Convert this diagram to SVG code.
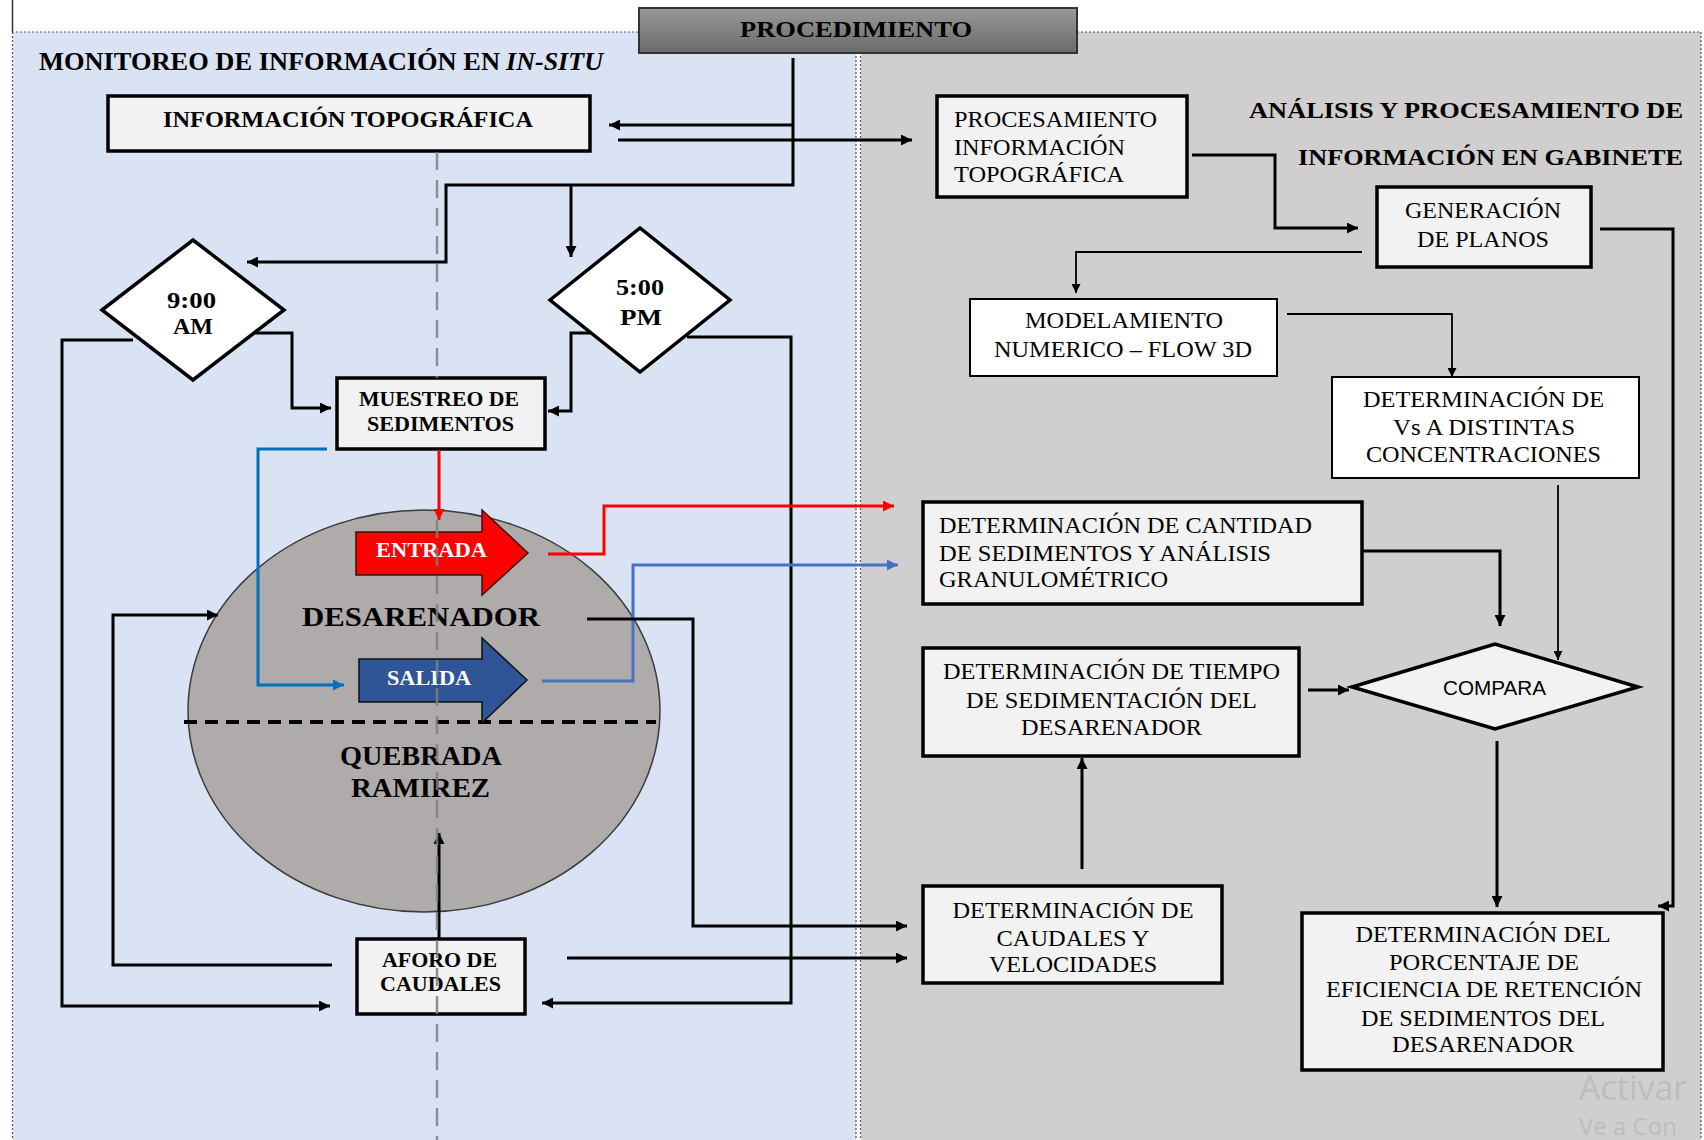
<svg xmlns="http://www.w3.org/2000/svg" width="1704" height="1140" viewBox="0 0 1704 1140">
<style>
.serif{font-family:"Liberation Serif","Times New Roman",serif;fill:#000}
.b{font-weight:bold}
.r24{font-size:24px}
.box{fill:#F2F2F2;stroke:#000;stroke-width:3.5}
.thinbox{fill:#FFFFFF;stroke:#000;stroke-width:2}
.dia{fill:#FFFFFF;stroke:#000;stroke-width:3.5}
.con{fill:none;stroke:#000;stroke-width:3;marker-end:url(#ah)}
.thin{fill:none;stroke:#000;stroke-width:1.8;marker-end:url(#ahs)}
.red{fill:none;stroke:#FF0000;stroke-width:3;marker-end:url(#ahr)}
.blue1{fill:none;stroke:#0070C0;stroke-width:3;marker-end:url(#ahb1)}
.blue2{fill:none;stroke:#4472C4;stroke-width:3;marker-end:url(#ahb2)}
.dot{fill:none;stroke:#555;stroke-width:1.2;stroke-dasharray:2 2}
</style>
<defs>
<linearGradient id="gproc" x1="0" y1="0" x2="0" y2="1">
<stop offset="0" stop-color="#999999"/>
<stop offset="1" stop-color="#6A6A6A"/>
</linearGradient>
<marker id="ah" viewBox="0 0 10 10" refX="10" refY="5" markerWidth="11" markerHeight="11" markerUnits="userSpaceOnUse" orient="auto"><path d="M0,0 L10,5 L0,10 z" fill="#000"/></marker>
<marker id="ahs" viewBox="0 0 10 10" refX="10" refY="5" markerWidth="10" markerHeight="9" markerUnits="userSpaceOnUse" orient="auto"><path d="M0,0 L10,5 L0,10 z" fill="#000"/></marker>
<marker id="ahr" viewBox="0 0 10 10" refX="10" refY="5" markerWidth="11" markerHeight="11" markerUnits="userSpaceOnUse" orient="auto"><path d="M0,0 L10,5 L0,10 z" fill="#FF0000"/></marker>
<marker id="ahb1" viewBox="0 0 10 10" refX="10" refY="5" markerWidth="11" markerHeight="11" markerUnits="userSpaceOnUse" orient="auto"><path d="M0,0 L10,5 L0,10 z" fill="#0070C0"/></marker>
<marker id="ahb2" viewBox="0 0 10 10" refX="10" refY="5" markerWidth="11" markerHeight="11" markerUnits="userSpaceOnUse" orient="auto"><path d="M0,0 L10,5 L0,10 z" fill="#4472C4"/></marker>
</defs>

<rect x="0" y="0" width="1704" height="1140" fill="#FFFFFF"/>
<g id="panels">
<rect x="13" y="32" width="843" height="1108" fill="#DAE3F3"/>
<rect x="861" y="32" width="840" height="1108" fill="#D0CECE"/>
<line x1="12.5" y1="0" x2="12.5" y2="32" stroke="#333" stroke-width="1.5"/>
<line x1="12.5" y1="32" x2="12.5" y2="1140" class="dot"/>
<line x1="12" y1="32" x2="640" y2="32" class="dot"/>
<line x1="1077" y1="32" x2="1701" y2="32" class="dot"/>
<line x1="856" y1="32" x2="856" y2="1140" class="dot"/>
<line x1="860.5" y1="32" x2="860.5" y2="1140" class="dot"/>
<line x1="1701" y1="32" x2="1701" y2="1140" class="dot"/>
</g>

<g id="titles">
<text class="serif b" x="39" y="70" font-size="25" textLength="461" lengthAdjust="spacingAndGlyphs">MONITOREO DE INFORMACIÓN EN</text>
<text class="serif b" x="506" y="70" font-size="25" font-style="italic" textLength="97" lengthAdjust="spacingAndGlyphs">IN-SITU</text>
<text class="serif b" x="1683" y="118" font-size="24" text-anchor="end" textLength="434" lengthAdjust="spacingAndGlyphs">ANÁLISIS Y PROCESAMIENTO DE</text>
<text class="serif b" x="1683" y="165" font-size="24" text-anchor="end" textLength="385" lengthAdjust="spacingAndGlyphs">INFORMACIÓN EN GABINETE</text>
</g>

<g id="procedimiento">
<rect x="639" y="8" width="438" height="45" fill="url(#gproc)" stroke="#333" stroke-width="2"/>
<text class="serif b" x="856" y="37" font-size="23" text-anchor="middle" textLength="232" lengthAdjust="spacingAndGlyphs">PROCEDIMIENTO</text>
</g>

<g id="info-topografica">
<rect class="box" x="108" y="96" width="482" height="55"/>
<text class="serif b" x="348" y="127" font-size="24" text-anchor="middle" textLength="370" lengthAdjust="spacingAndGlyphs">INFORMACIÓN TOPOGRÁFICA</text>
</g>

<g id="am900">
<polygon class="dia" points="102,310 193,240 284,310 193,380"/>
<text class="serif b" x="191.5" y="308" font-size="24" text-anchor="middle" textLength="49" lengthAdjust="spacingAndGlyphs">9:00</text>
<text class="serif b" x="193" y="334" font-size="24" text-anchor="middle" textLength="40" lengthAdjust="spacingAndGlyphs">AM</text>
</g>

<g id="pm500">
<polygon class="dia" points="550,300 640,228 730,300 640,372"/>
<text class="serif b" x="640" y="295" font-size="24" text-anchor="middle" textLength="48" lengthAdjust="spacingAndGlyphs">5:00</text>
<text class="serif b" x="641" y="325" font-size="24" text-anchor="middle" textLength="42" lengthAdjust="spacingAndGlyphs">PM</text>
</g>

<g id="muestreo">
<rect class="box" x="337" y="378" width="208" height="71"/>
<text class="serif b" x="439" y="406" font-size="20" text-anchor="middle" textLength="160" lengthAdjust="spacingAndGlyphs">MUESTREO DE</text>
<text class="serif b" x="440.5" y="431" font-size="20" text-anchor="middle" textLength="147" lengthAdjust="spacingAndGlyphs">SEDIMENTOS</text>
</g>

<g id="desarenador">
<ellipse cx="424" cy="711" rx="236" ry="201" fill="#AFABAB" stroke="#3A3A3A" stroke-width="1.5"/>
<line x1="184" y1="722" x2="656" y2="722" stroke="#000" stroke-width="4" stroke-dasharray="13 8"/>
<text class="serif b" x="421" y="626" font-size="28" text-anchor="middle" textLength="238" lengthAdjust="spacingAndGlyphs">DESARENADOR</text>
<text class="serif b" x="421" y="765" font-size="28" text-anchor="middle" textLength="162" lengthAdjust="spacingAndGlyphs">QUEBRADA</text>
<text class="serif b" x="420.5" y="797" font-size="28" text-anchor="middle" textLength="139" lengthAdjust="spacingAndGlyphs">RAMIREZ</text>
</g>

<g id="entrada">
<polygon points="356,532 482,532 482,510 528,553 482,595 482,575 356,575" fill="#FF0000" stroke="#3A1010" stroke-width="1.5"/>
<text class="serif b" x="431.5" y="557" font-size="21" style="fill:#FFFFFF" text-anchor="middle" textLength="111" lengthAdjust="spacingAndGlyphs">ENTRADA</text>
</g>

<g id="salida">
<polygon points="359,659 482,659 482,638 527,680 482,723 482,702 359,702" fill="#2F5597" stroke="#111" stroke-width="1.5"/>
<text class="serif b" x="429" y="685" font-size="21" style="fill:#FFFFFF" text-anchor="middle" textLength="84" lengthAdjust="spacingAndGlyphs">SALIDA</text>
</g>

<g id="aforo">
<rect class="box" x="357" y="939" width="168" height="75"/>
<text class="serif b" x="439.5" y="967" font-size="20" text-anchor="middle" textLength="115" lengthAdjust="spacingAndGlyphs">AFORO DE</text>
<text class="serif b" x="440.5" y="991" font-size="20" text-anchor="middle" textLength="121" lengthAdjust="spacingAndGlyphs">CAUDALES</text>
</g>

<g id="procesamiento">
<rect class="box" x="937" y="96" width="250" height="101"/>
<text class="serif r24" x="954" y="127" textLength="203" lengthAdjust="spacingAndGlyphs">PROCESAMIENTO</text>
<text class="serif r24" x="954" y="155" textLength="171" lengthAdjust="spacingAndGlyphs">INFORMACIÓN</text>
<text class="serif r24" x="954" y="182" textLength="170" lengthAdjust="spacingAndGlyphs">TOPOGRÁFICA</text>
</g>

<g id="generacion">
<rect class="box" x="1377" y="187" width="214" height="80"/>
<text class="serif r24" x="1483" y="218" text-anchor="middle" textLength="156" lengthAdjust="spacingAndGlyphs">GENERACIÓN</text>
<text class="serif r24" x="1483" y="247" text-anchor="middle" textLength="132" lengthAdjust="spacingAndGlyphs">DE PLANOS</text>
</g>

<g id="modelamiento">
<rect class="thinbox" x="970" y="299" width="307" height="77"/>
<text class="serif r24" x="1124" y="328" text-anchor="middle" textLength="198" lengthAdjust="spacingAndGlyphs">MODELAMIENTO</text>
<text class="serif r24" x="1123" y="357" text-anchor="middle" textLength="258" lengthAdjust="spacingAndGlyphs">NUMERICO – FLOW 3D</text>
</g>

<g id="vs">
<rect class="thinbox" x="1332" y="377" width="307" height="101"/>
<text class="serif r24" x="1483.5" y="407" text-anchor="middle" textLength="241" lengthAdjust="spacingAndGlyphs">DETERMINACIÓN DE</text>
<text class="serif r24" x="1484" y="435" text-anchor="middle" textLength="182" lengthAdjust="spacingAndGlyphs">Vs A DISTINTAS</text>
<text class="serif r24" x="1483.5" y="462" text-anchor="middle" textLength="235" lengthAdjust="spacingAndGlyphs">CONCENTRACIONES</text>
</g>

<g id="cantidad">
<rect class="box" x="923" y="502" width="439" height="102"/>
<text class="serif r24" x="939" y="533" textLength="373" lengthAdjust="spacingAndGlyphs">DETERMINACIÓN DE CANTIDAD</text>
<text class="serif r24" x="939" y="561" textLength="332" lengthAdjust="spacingAndGlyphs">DE SEDIMENTOS Y ANÁLISIS</text>
<text class="serif r24" x="939" y="587" textLength="229" lengthAdjust="spacingAndGlyphs">GRANULOMÉTRICO</text>
</g>

<g id="tiempo">
<rect class="box" x="923" y="648" width="376" height="108"/>
<text class="serif r24" x="1111.5" y="679" text-anchor="middle" textLength="337" lengthAdjust="spacingAndGlyphs">DETERMINACIÓN DE TIEMPO</text>
<text class="serif r24" x="1111.5" y="708" text-anchor="middle" textLength="291" lengthAdjust="spacingAndGlyphs">DE SEDIMENTACIÓN DEL</text>
<text class="serif r24" x="1111.5" y="735" text-anchor="middle" textLength="181" lengthAdjust="spacingAndGlyphs">DESARENADOR</text>
</g>

<g id="compara">
<polygon points="1352,687 1495,644 1638,687 1495,729" fill="#F2F2F2" stroke="#000" stroke-width="3.5"/>
<text x="1494.5" y="695" font-family="Liberation Sans, Arial, sans-serif" font-size="20" text-anchor="middle" textLength="103" lengthAdjust="spacingAndGlyphs" fill="#000">COMPARA</text>
</g>

<g id="caudales">
<rect class="box" x="923" y="886" width="299" height="97"/>
<text class="serif r24" x="1073" y="918" text-anchor="middle" textLength="241" lengthAdjust="spacingAndGlyphs">DETERMINACIÓN DE</text>
<text class="serif r24" x="1073" y="946" text-anchor="middle" textLength="153" lengthAdjust="spacingAndGlyphs">CAUDALES Y</text>
<text class="serif r24" x="1073" y="972" text-anchor="middle" textLength="168" lengthAdjust="spacingAndGlyphs">VELOCIDADES</text>
</g>

<g id="porcentaje">
<rect class="box" x="1302" y="913" width="361" height="157"/>
<text class="serif r24" x="1483" y="942" text-anchor="middle" textLength="255" lengthAdjust="spacingAndGlyphs">DETERMINACIÓN DEL</text>
<text class="serif r24" x="1484" y="970" text-anchor="middle" textLength="190" lengthAdjust="spacingAndGlyphs">PORCENTAJE DE</text>
<text class="serif r24" x="1484" y="997" text-anchor="middle" textLength="316" lengthAdjust="spacingAndGlyphs">EFICIENCIA DE RETENCIÓN</text>
<text class="serif r24" x="1483" y="1026" text-anchor="middle" textLength="244" lengthAdjust="spacingAndGlyphs">DE SEDIMENTOS DEL</text>
<text class="serif r24" x="1483" y="1052" text-anchor="middle" textLength="182" lengthAdjust="spacingAndGlyphs">DESARENADOR</text>
</g>

<g id="connectors">
<path class="con" d="M793,58 V185 H446 V262 H247"/>
<path class="con" d="M793,125 H609"/>
<path class="con" d="M618,140 H912"/>
<path class="con" d="M571,185 V257"/>
<path class="con" d="M133,340 H62 V1006 H330"/>
<path class="con" d="M255,333 H292 V408 H331"/>
<path class="con" d="M592,333 H571 V411 H548"/>
<path class="con" d="M687,337 H791 V1003 H542"/>
<path class="red" d="M439,450 V520"/>
<path class="blue1" d="M327,449 H258 V685 H344"/>
<path class="red" d="M548,554 H604 V506 H894"/>
<path class="blue2" d="M542,681 H633 V565 H898"/>
<path class="con" d="M587,619 H693 V926 H907"/>
<path class="con" d="M332,965 H113 V615 H218"/>
<path class="con" d="M439,939 V833"/>
<path class="con" d="M567,958 H907"/>
<path class="con" d="M1192,155 H1275 V228 H1358"/>
<path class="thin" d="M1362,252 H1076 V293"/>
<path class="con" d="M1600,229 H1673 V906 H1658"/>
<path class="thin" d="M1287,314 H1452 V377"/>
<path class="thin" d="M1558,485 V660"/>
<path class="con" d="M1362,551 H1500 V626"/>
<path class="con" d="M1308,690 H1349"/>
<path class="con" d="M1497,741 V907"/>
<path class="con" d="M1082,869 V758"/>
<path d="M437,152 V378 M437,520 V1140" fill="none" stroke="#7F7F7F" stroke-width="2.5" stroke-dasharray="18 10" opacity="0.85"/>
</g>

<g id="watermark" font-family="Open Sans, Noto Sans, sans-serif" fill="#BDBDBD">
<text x="1579" y="1100" font-size="34">Activar</text>
<text x="1579" y="1135" font-size="24">Ve a Con</text>
</g>
</svg>
